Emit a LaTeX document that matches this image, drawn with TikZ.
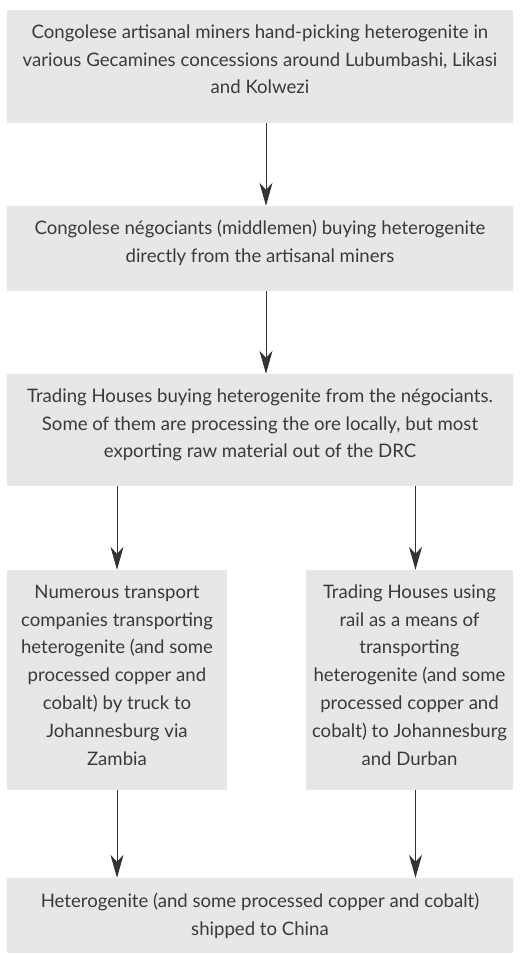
\documentclass[tikz,border=0pt]{standalone}
\usepackage{fontspec}
\setmainfont{Lato}
\usetikzlibrary{arrows.meta}
\definecolor{boxfill}{HTML}{E6E7E8}
\definecolor{txt}{HTML}{3A3A3A}
\definecolor{arr}{HTML}{333333}
\newcommand{\firststrut}{\rule{0pt}{16pt}}
\tikzset{
  flowbox/.style={fill=boxfill, draw=none, inner sep=0pt},
  flowtext/.style={anchor=north, inner sep=0pt, align=center, text=txt,
    font=\fontsize{18.6}{27.8}\selectfont, yshift=-12.3pt},
  flowarrow/.style={draw=arr, line width=1pt, -{Stealth[length=23pt, width=13pt, inset=7pt]}}
}
\begin{document}
\begin{tikzpicture}[x=1pt, y=-1pt]
\useasboundingbox (0,0) rectangle (520,954);
\node[flowbox, minimum width=506pt, minimum height=113pt] (b1) at (260,66.5) {};
\node[flowbox, minimum width=506pt, minimum height=85pt] (b2) at (260,248.5) {};
\node[flowbox, minimum width=506pt, minimum height=112pt] (b3) at (260,430) {};
\node[flowbox, minimum width=220pt, minimum height=220pt] (b4) at (117,680) {};
\node[flowbox, minimum width=207pt, minimum height=220pt] (b5) at (409.5,680) {};
\node[flowbox, minimum width=506pt, minimum height=75pt] (b6) at (260,915.5) {};
\node[flowtext] (t1) at (b1.north)
  {\firststrut Congolese artisanal miners hand-picking heterogenite in\\various Gecamines concessions around Lubumbashi, Likasi\\and Kolwezi};
\node[flowtext] (t2) at (b2.north)
  {\firststrut Congolese négociants (middlemen) buying heterogenite\\directly from the artisanal miners};
\node[flowtext] (t3) at (b3.north)
  {\firststrut Trading Houses buying heterogenite from the négociants.\\Some of them are processing the ore locally, but most\\exporting raw material out of the DRC};
\node[flowtext] (t4) at (b4.north)
  {\firststrut Numerous transport\\companies transporting\\heterogenite (and some\\processed copper and\\cobalt) by truck to\\Johannesburg via\\Zambia};
\node[flowtext] (t5) at (b5.north)
  {\firststrut Trading Houses using\\rail as a means of\\transporting\\heterogenite (and some\\processed copper and\\cobalt) to Johannesburg\\and Durban};
\node[flowtext, yshift=-1pt] (t6) at (b6.north)
  {\firststrut Heterogenite (and some processed copper and cobalt)\\shipped to China};
\coordinate (r4) at ([xshift=6pt]b5.north);
\coordinate (r5) at ([xshift=6pt]b5.south);
\draw[flowarrow] ([xshift=6pt]b1.south) -- ([xshift=6pt]b2.north);
\draw[flowarrow] ([xshift=6pt]b2.south) -- ([xshift=6pt]b3.north);
\draw[flowarrow] (b3.south -| b4.north) -- (b4.north);
\draw[flowarrow] (b3.south -| r4) -- (r4);
\draw[flowarrow] (b4.south) -- (b6.north -| b4.south);
\draw[flowarrow] (r5) -- (b6.north -| r5);
\end{tikzpicture}
\end{document}
